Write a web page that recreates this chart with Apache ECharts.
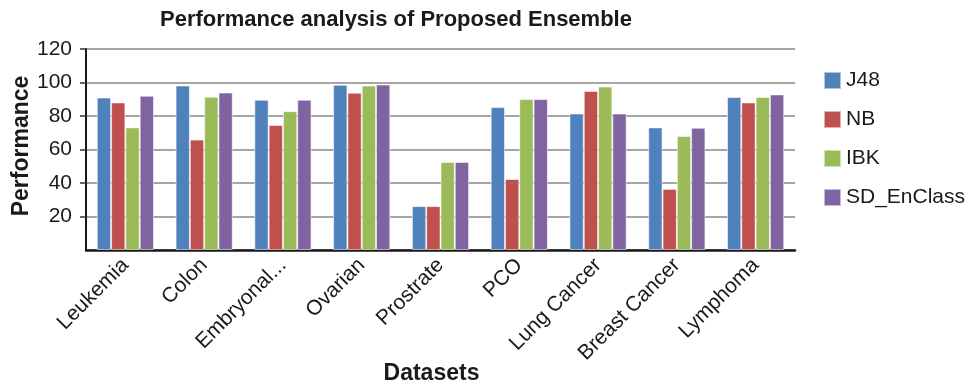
<!DOCTYPE html>
<html>
<head>
<meta charset="utf-8">
<script src="https://cdn.jsdelivr.net/npm/echarts@6/dist/echarts.min.js"></script>
<style>
html,body{margin:0;padding:0;background:#fff;}
#chart{width:968px;height:385px;}
</style>
</head>
<body>
<div id="chart"></div>
<script>
const categories = ['Leukemia','Colon','Embryonal...','Ovarian','Prostrate','PCO','Lung Cancer','Breast Cancer','Lymphoma'];
const seriesNames = ['J48','NB','IBK','SD_EnClass'];
const j48 = [91, 98.2, 89.7, 98.6, 26.2, 85.3, 81.5, 73.2, 91.3];
const nb = [88.1, 65.9, 74.6, 93.9, 26.2, 42.4, 95, 36.5, 88.1];
const ibk = [73.2, 91.5, 82.9, 98.2, 52.6, 90.1, 97.6, 68, 91.3];
const sd = [92.1, 94, 89.7, 98.8, 52.6, 90.1, 81.5, 73, 92.9];
const yTicks = [0, 20, 40, 60, 80, 100, 120];
const colors = ['#4F81BD','#C0504D','#9BBB59','#8064A2'];

const FONT = "'Liberation Sans', Arial, Helvetica, sans-serif";
const chart = echarts.init(document.getElementById('chart'));
const dataSets = [j48, nb, ibk, sd];
chart.setOption({
  animation: false,
  color: colors,
  title: {
    text: 'Performance analysis of Proposed Ensemble',
    left: 160, top: 9, padding: 0,
    textStyle: {fontFamily: FONT, fontSize: 22, fontWeight: 'bold', color: '#1a1a1a'}
  },
  legend: {
    orient: 'vertical', left: 818, top: 65, itemWidth: 17, itemHeight: 17, itemGap: 18,
    icon: 'rect',
    textStyle: {fontFamily: FONT, fontSize: 21, color: '#1a1a1a', lineHeight: 21},
    data: seriesNames
  },
  grid: {left: 86, right: 173, top: 49, bottom: 135, containLabel: false, outerBoundsMode: 'none'},
  xAxis: {
    type: 'category', data: categories,
    name: 'Datasets', nameLocation: 'middle', nameGap: 112, nameMoveOverlap: false,
    nameTextStyle: {fontFamily: FONT, fontSize: 23, fontWeight: 'bold', color: '#1a1a1a', padding: [0, 18, 0, 0]},
    axisLine: {lineStyle: {color: '#1a1a1a', width: 2.5}},
    axisTick: {show: false},
    axisLabel: {rotate: 45, margin: 12, interval: 0, fontFamily: FONT, fontSize: 21, color: '#1a1a1a'}
  },
  yAxis: {
    type: 'value', min: yTicks[0], max: yTicks[yTicks.length-1], interval: 20,
    name: 'Performance', nameLocation: 'middle', nameGap: 53, nameMoveOverlap: false,
    nameTextStyle: {fontFamily: FONT, fontSize: 23, fontWeight: 'bold', color: '#1a1a1a', padding: [0, 0, 0, 7]},
    axisLine: {show: true, lineStyle: {color: '#1a1a1a', width: 2}},
    axisTick: {show: true, length: 6, lineStyle: {color: '#333', width: 1.5}},
    axisLabel: {margin: 14, fontFamily: FONT, fontSize: 21, color: '#1a1a1a', showMinLabel: false,
      formatter: v => v === 0 ? '' : String(v)},
    splitLine: {lineStyle: {color: '#a6a6a6', width: 2}}
  },
  series: seriesNames.map((n, i) => ({
    name: n, type: 'bar', data: dataSets[i],
    barWidth: 14.3, barGap: '0%',
    itemStyle: {color: colors[i], borderColor: 'rgba(255,255,255,0.55)', borderWidth: 1}
  }))
});
</script>
</body>
</html>
